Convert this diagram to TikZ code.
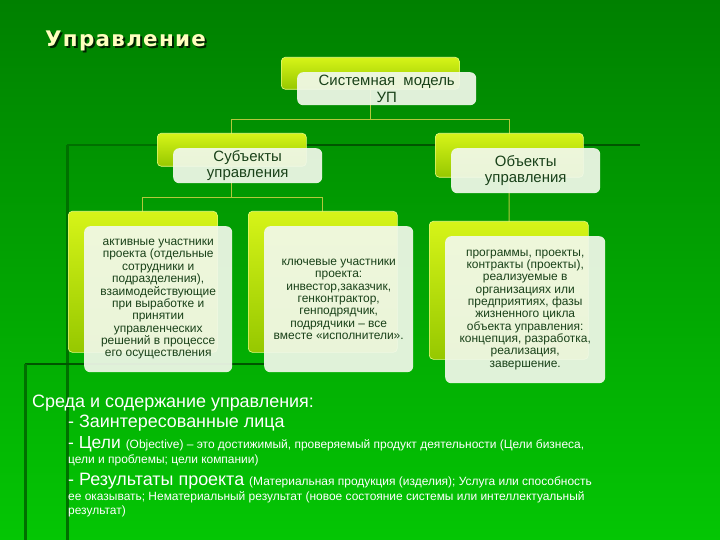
\documentclass[tikz,border=0pt]{standalone}
\usepackage{fontspec}
\setmainfont{Liberation Sans}
\newfontfamily\titlefont[LetterSpace=6]{DejaVu Sans}
\usetikzlibrary{positioning,calc,backgrounds}
\definecolor{deep}{RGB}{0,128,0}
\definecolor{meadow}{RGB}{4,198,4}
\definecolor{lime}{RGB}{214,244,24}
\definecolor{olive}{RGB}{150,200,0}
\definecolor{paper}{RGB}{241,248,234}
\definecolor{leaf}{RGB}{25,65,25}
\definecolor{stem}{RGB}{180,200,60}
\definecolor{cream}{RGB}{255,255,190}
\definecolor{rule}{RGB}{0,85,0}
\definecolor{faintrule}{RGB}{0,112,0}
\pgfdeclarelayer{wires}
\pgfsetlayers{background,wires,main}
\newcommand{\shaded}[1]{\rlap{\raisebox{-2bp}{\hspace{2bp}\color{rule!40!black}#1}}#1}
\tikzset{
  every picture/.style={x=1bp, y=-1bp},
  back/.style={rounded corners=4bp, top color=lime, bottom color=olive, draw=lime!55!white, line width=0.6bp, anchor=north west, inner sep=0pt},
  card/.style={rounded corners=6bp, fill=paper, fill opacity=0.93, text opacity=1, text=leaf, align=center, inner sep=0pt, font=\fontsize{15}{16.5}\selectfont},
  smallcard/.style={card, font=\fontsize{12}{12.4}\selectfont},
  wire/.style={draw=stem, line width=1.1bp},
  title/.style={anchor=west, inner sep=0pt, text=cream, font=\titlefont\bfseries\fontsize{21.5}{24}\selectfont},
  txt/.style={text=white, anchor=base west, inner sep=0pt, font=\fontsize{18}{20}\selectfont},
  fine/.style={font=\fontsize{12}{14}\selectfont},
}
\begin{document}
\begin{tikzpicture}
  \useasboundingbox (0,0) rectangle (720,540);
  % slide backdrop and template rules
  \begin{pgfonlayer}{background}
    \fill[top color=deep, bottom color=meadow] (0,0) rectangle (720,540);
    \draw[faintrule, line width=3bp] (67,145) -- (67,540);
    \draw[faintrule, line width=2bp] (67,145) -- (300,145);
    \draw[rule, line width=2bp] (300,145) -- (640,145);
    \draw[rule, line width=2bp] (25,364) -- (266,364);
    \draw[faintrule, line width=3bp] (25,364) -- (25,540);
  \end{pgfonlayer}

  \node[title] (title) at (45,42) {\shaded{Управление}};

  % tier 1
  \node[back, minimum width=178bp, minimum height=32bp] (sysB) at (281,57) {};
  \node[card, minimum width=179bp, minimum height=33bp, below right=15bp and 16bp of sysB.north west] (sys) {Системная\ \ модель\\УП};

  % tier 2
  \node[back, minimum width=149bp, minimum height=33bp] (subjB) at (157,133) {};
  \node[card, minimum width=149bp, minimum height=35bp, below right=15bp and 16bp of subjB.north west] (subj) {Субъекты\\управления};
  \node[back, minimum width=148bp, minimum height=44bp] (objB) at (435,133) {};
  \node[card, minimum width=149bp, minimum height=45bp, below right=15bp and 16bp of objB.north west] (obj) {Объекты\\управления};

  % tier 3
  \node[back, minimum width=149bp, minimum height=141bp] (actB) at (68,211) {};
  \node[smallcard, minimum width=148bp, minimum height=146bp, below right=15bp and 16bp of actB.north west] (act) {активные участники\\проекта (отдельные\\сотрудники и\\подразделения),\\взаимодействующие\\при выработке и\\принятии\\управленческих\\решений в процессе\\его осуществления};
  \node[back, minimum width=149bp, minimum height=141bp] (keyB) at (248,211) {};
  \node[smallcard, minimum width=149bp, minimum height=146bp, below right=15bp and 16bp of keyB.north west] (key) {ключевые участники\\проекта:\\инвестор,заказчик,\\генконтрактор,\\генподрядчик,\\подрядчики – все\\вместе «исполнители».};
  \node[back, minimum width=159bp, minimum height=138bp] (progB) at (429,221) {};
  \node[smallcard, minimum width=160bp, minimum height=147bp, below right=15bp and 16bp of progB.north west] (prog) {программы, проекты,\\контракты (проекты),\\реализуемые в\\организациях или\\предприятиях, фазы\\жизненного цикла\\объекта управления:\\концепция, разработка,\\реализация,\\завершение.};

  \begin{pgfonlayer}{wires}
    \draw[wire] (sysB.center) |- ($(sys.south)!0.5!(subjB.north)$) -| (subjB.center);
    \draw[wire] (sysB.center) |- ($(sys.south)!0.5!(objB.north)$) -| (objB.center);
    \draw[wire] (subjB.center) |- ($(subj.south)!0.5!(actB.north)$) -| (actB.center);
    \draw[wire] (subjB.center) |- ($(subj.south)!0.5!(keyB.north)$) -| (keyB.center);
    \draw[wire] (objB.center) -- (progB.center);
  \end{pgfonlayer}

  % environment list
  \node[txt] (env) at (32,407) {Среда и содержание управления:};
  \node[txt] (stake) at (68,427) {- Заинтересованные лица};
  \node[txt] (goal) at (68,448) {{\fontsize{17.5}{20}\selectfont - Цели} {\fontsize{12}{14}\selectfont (Objective) – это достижимый, проверяемый продукт деятельности (Цели бизнеса,}};
  \node[txt, fine] (goal2) at (68,463) {цели и проблемы; цели компании)};
  \node[txt] (res) at (68,485) {{\fontsize{18}{20}\selectfont - Результаты проекта} {\fontsize{12}{14}\selectfont (Материальная продукция (изделия); Услуга или способность}};
  \node[txt, fine] (res2) at (68,500) {ее оказывать; Нематериальный результат (новое состояние системы или интеллектуальный};
  \node[txt, fine] (res3) at (68,514) {результат)};
\end{tikzpicture}
\end{document}
